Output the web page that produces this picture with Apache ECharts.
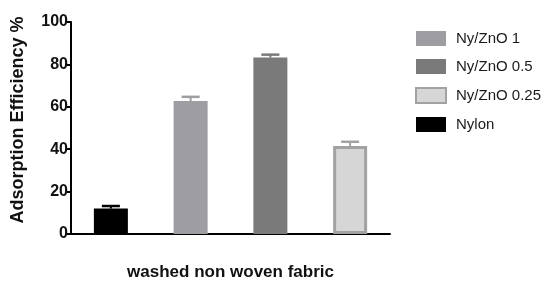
<!DOCTYPE html>
<html><head><meta charset="utf-8">
<script src="https://cdn.jsdelivr.net/npm/echarts@6/dist/echarts.min.js"></script>
<style>html,body{margin:0;padding:0;background:#fff}#c{width:550px;height:295px}</style>
</head><body><div id="c"></div>
<script>
const categories = ['Nylon', 'Ny/ZnO 1', 'Ny/ZnO 0.5', 'Ny/ZnO 0.25'];
const values = [12, 62.7, 83.2, 41.5];
const errors = [1.2, 2.0, 1.4, 2.0];
const legendOrder = ['Ny/ZnO 1', 'Ny/ZnO 0.5', 'Ny/ZnO 0.25', 'Nylon'];
const yTicks = [0, 20, 40, 60, 80, 100];

const fills = ['#000000', '#9d9da2', '#7a7a7a', '#d6d6d6'];
const borders = ['#000000', '#9d9da2', '#7a7a7a', '#a2a2a2'];
const borderW = [0, 0, 0, 3];

const series = categories.map((name, i) => ({
  name: name,
  type: 'bar',
  barWidth: 34,
  barGap: '-100%',
  data: categories.map((c, j) => j === i ? values[i] : '-'),
  itemStyle: { color: fills[i], borderColor: borders[i], borderWidth: borderW[i] },
  emphasis: { disabled: true },
  z: 2
}));

series.push({
  type: 'custom',
  name: 'err',
  z: 1,
  data: categories.map((c, i) => [i, values[i], values[i] + errors[i]]),
  renderItem: function (params, api) {
    const i = api.value(0);
    const base = api.coord([i, api.value(1)]);
    const top = api.coord([i, api.value(2)]);
    const hw = 9;
    const col = borders[i];
    return {
      type: 'group',
      children: [
        { type: 'line', shape: { x1: base[0], y1: base[1], x2: top[0], y2: top[1] }, style: { stroke: col, lineWidth: 2 } },
        { type: 'line', shape: { x1: top[0] - hw, y1: top[1], x2: top[0] + hw, y2: top[1] }, style: { stroke: col, lineWidth: 2.5 } }
      ]
    };
  }
});

const chart = echarts.init(document.getElementById('c'));
chart.setOption({
  animation: false,
  backgroundColor: '#fff',
  grid: { left: 71, right: 160, top: 22, bottom: 61 },
  legend: {
    data: legendOrder,
    orient: 'vertical',
    left: 410, top: 26,
    itemWidth: 30, itemHeight: 15, itemGap: 13,
    textStyle: { fontFamily: 'Liberation Sans, Arial', fontSize: 15, color: '#1a1a1a', padding: [0, 0, 0, 5] },
    icon: 'rect'
  },
  xAxis: {
    type: 'category',
    data: categories,
    name: 'washed non woven fabric',
    nameLocation: 'middle',
    nameGap: 30,
    nameTextStyle: { fontFamily: 'Liberation Sans, Arial', fontWeight: 'bold', fontSize: 17, color: '#111' },
    axisLine: { lineStyle: { color: '#000', width: 2 } },
    axisTick: { alignWithLabel: true, length: 6, lineStyle: { color: '#000', width: 2 } },
    axisLabel: { show: false }
  },
  yAxis: {
    type: 'value',
    min: yTicks[0], max: yTicks[yTicks.length - 1], interval: 20,
    name: 'Adsorption Efficiency %',
    nameLocation: 'middle',
    nameGap: 44,
    nameTextStyle: { fontFamily: 'Liberation Sans, Arial', fontWeight: 'bold', fontSize: 18, color: '#111', padding: [0, 0, 0, 16] },
    axisLine: { show: true, lineStyle: { color: '#000', width: 2 } },
    axisTick: { show: true, length: 5, lineStyle: { color: '#000', width: 2 } },
    axisLabel: { fontFamily: 'Liberation Sans, Arial', fontWeight: 'bold', fontSize: 16, color: '#111', margin: 3 },
    splitLine: { show: false }
  },
  series: series
});
</script></body></html>
